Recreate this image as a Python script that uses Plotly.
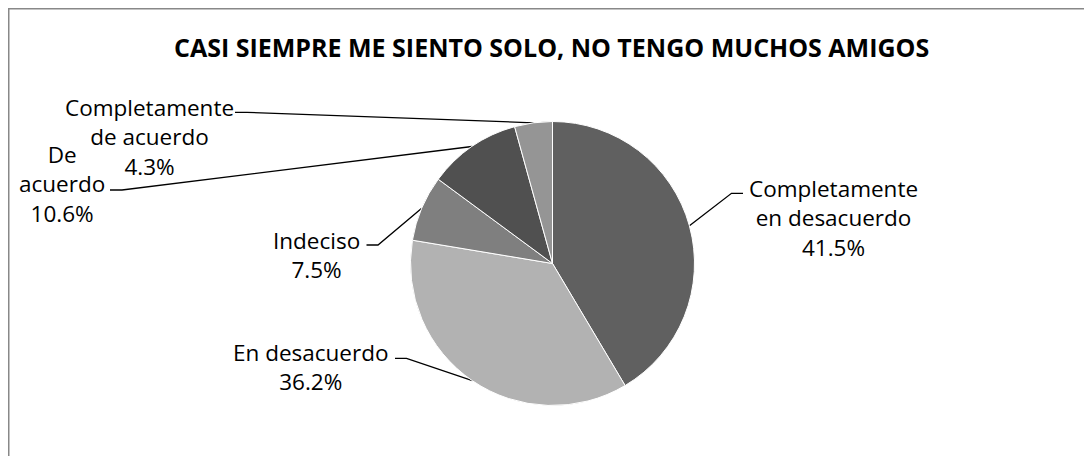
import math
import plotly.graph_objects as go

# ---- data ----
categories = ["Completamente en desacuerdo", "En desacuerdo", "Indeciso",
              "De acuerdo", "Completamente de acuerdo"]
values = [41.5, 36.2, 7.5, 10.6, 4.3]
label_texts = ["Completamente<br>en desacuerdo<br>41.5%",
               "En desacuerdo<br>36.2%",
               "Indeciso<br>7.5%",
               "De<br>acuerdo<br>10.6%",
               "Completamente<br>de acuerdo<br>4.3%"]
colors = ["#606060", "#b2b2b2", "#7f7f7f", "#505050", "#959595"]
title = "CASI SIEMPRE ME SIENTO SOLO, NO TENGO MUCHOS AMIGOS"

# ---- layout geometry (screen pixels; page body adds an 8px offset) ----
W, H = 1092, 456
OFF = 8
cx, cy, r = 552.5, 263.5, 142
label_pos = [(833, 218), (310, 367), (316.5, 255), (62, 184), (149, 137)]
leader_start = [(743, 193.3), (395, 358.3), (366.5, 245), (110, 190), (235, 112.3)]
leader_bend = [(731.5, 193.3), (406.5, 358.3), (378, 245), (122, 190), (247, 112.3)]
FONT = "Open Sans"

fig = go.Figure()

fig.add_trace(go.Pie(
    labels=categories, values=values, sort=False, direction="clockwise",
    rotation=0, textinfo="none", hoverinfo="skip",
    marker=dict(colors=colors, line=dict(color="white", width=1)),
    domain=dict(x=[(cx - OFF - r) / W, (cx - OFF + r) / W],
                y=[1 - (cy - OFF + r) / H, 1 - (cy - OFF - r) / H]),
    showlegend=False,
))

# leader lines: end on slice edge at its mid-angle
total = sum(values)
cum = 0.0
for i, v in enumerate(values):
    theta = 2 * math.pi * (cum + v / 2) / total
    cum += v
    ex = cx + r * math.sin(theta)
    ey = cy - r * math.cos(theta)
    sx, sy = leader_start[i]
    bx, by = leader_bend[i]
    fig.add_trace(go.Scatter(
        x=[sx, bx, ex], y=[sy, by, ey], mode="lines",
        line=dict(color="black", width=1.3), hoverinfo="skip", showlegend=False,
    ))

annotations = []
for (lx, ly), t in zip(label_pos, label_texts):
    annotations.append(dict(
        x=lx, y=ly, xref="x", yref="y", text=t, showarrow=False,
        xanchor="center", yanchor="middle", align="center",
        font=dict(family=FONT, size=22.5, color="#000000"),
    ))
annotations.append(dict(
    x=551.5, y=47, xref="x", yref="y", text="<b>" + title + "</b>",
    showarrow=False, xanchor="center", yanchor="middle",
    font=dict(family=FONT, size=25, color="#000000"),
))

fig.update_layout(
    width=W, height=H, margin=dict(l=0, r=0, t=0, b=0),
    paper_bgcolor="white", plot_bgcolor="white",
    xaxis=dict(range=[OFF, W + OFF], visible=False, fixedrange=True),
    yaxis=dict(range=[H + OFF, OFF], visible=False, fixedrange=True),
    annotations=annotations,
    shapes=[
        dict(type="line", xref="paper", yref="paper", x0=0, y0=1 - 0.75 / H,
             x1=1, y1=1 - 0.75 / H, line=dict(color="#888888", width=1.5)),
        dict(type="line", xref="paper", yref="paper", x0=0.75 / W, y0=0,
             x1=0.75 / W, y1=1, line=dict(color="#888888", width=1.5)),
    ],
)

fig.write_html("out.html")
